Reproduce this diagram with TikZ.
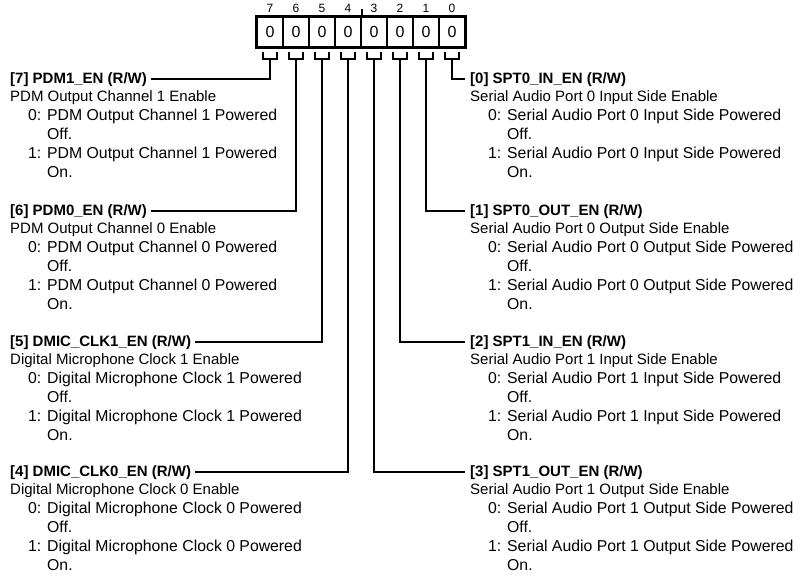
\documentclass[tikz,border=0pt]{standalone}
\usepackage{fontspec}
\setmainfont{Liberation Sans}
\begin{document}
\begin{tikzpicture}[x=1pt,y=1pt,
  txt/.style={anchor=base west,inner sep=0pt,font=\fontsize{15}{18}\selectfont},
  itm/.style={anchor=base west,inner sep=0pt,font=\fontsize{15.8}{18}\selectfont},
  hdr/.style={txt,font=\fontsize{15}{18}\selectfont\bfseries},
  cell/.style={draw,line width=2pt,minimum width=26pt,minimum height=29.5pt,inner sep=0pt,font=\fontsize{16}{18}\selectfont},
  bitno/.style={inner sep=0pt,font=\fontsize{12}{14}\selectfont},
  conn/.style={line width=2pt}]
\useasboundingbox (0,0) rectangle (811,-584);
% register cells
\foreach \b/\x in {7/270,6/296,5/322,4/348,3/374,2/400,1/426,0/452}{
  \node[cell] (c\b) at (\x,-32) {0};
  \node[bitno] (n\b) at (\x,-8) {\b};
  \draw[conn] ([xshift=-7pt,yshift=-4pt]c\b.south) -- ++(0,-7) -- ++(14,0) -- ++(0,7);
  \coordinate (k\b) at ([yshift=-11pt]c\b.south);
}
\draw[line width=2.2pt] (c7.north west) rectangle (c0.south east);
\coordinate (t0) at (c4.north east);
\coordinate (t1) at ([yshift=7pt]c4.north east);
\draw[line width=1.5pt] (t0) -- (t1);
\newcommand{\regfield}[6]{%
 \node[hdr] (h#1) at (#2,-#3) {#4};
 \node[txt] (d#1) at (#2,-#3-18.5) {#5};
 \node[itm] (a#1) at (#2+18,-#3-37.5) {0:};
 \node[itm] (b#1) at (#2+37,-#3-37.5) {#6};
 \node[itm] (o#1) at (#2+37,-#3-56.5) {Off.};
 \node[itm] (e#1) at (#2+18,-#3-75.5) {1:};
 \node[itm] (f#1) at (#2+37,-#3-75.5) {#6};
 \node[itm] (g#1) at (#2+37,-#3-94.5) {On.};
}
\regfield{7}{10}{83}{[7] PDM1\_EN (R/W)}{PDM Output Channel 1 Enable}{PDM Output Channel 1 Powered}
\regfield{6}{10}{215}{[6] PDM0\_EN (R/W)}{PDM Output Channel 0 Enable}{PDM Output Channel 0 Powered}
\regfield{5}{10}{346}{[5] DMIC\_CLK1\_EN (R/W)}{Digital Microphone Clock 1 Enable}{Digital Microphone Clock 1 Powered}
\regfield{4}{10}{476}{[4] DMIC\_CLK0\_EN (R/W)}{Digital Microphone Clock 0 Enable}{Digital Microphone Clock 0 Powered}
\regfield{0}{470}{83}{[0] SPT0\_IN\_EN (R/W)}{Serial Audio Port 0 Input Side Enable}{Serial Audio Port 0 Input Side Powered}
\regfield{1}{470}{215}{[1] SPT0\_OUT\_EN (R/W)}{Serial Audio Port 0 Output Side Enable}{Serial Audio Port 0 Output Side Powered}
\regfield{2}{470}{346}{[2] SPT1\_IN\_EN (R/W)}{Serial Audio Port 1 Input Side Enable}{Serial Audio Port 1 Input Side Powered}
\regfield{3}{470}{476}{[3] SPT1\_OUT\_EN (R/W)}{Serial Audio Port 1 Output Side Enable}{Serial Audio Port 1 Output Side Powered}
% connectors
\foreach \b in {7,6,5,4}{
  \draw[conn] (k\b) |- ([xshift=4pt]h\b.east);
}
\foreach \b in {0,1,2,3}{
  \draw[conn] (k\b) |- ([xshift=-5pt]h\b.west);
}
\end{tikzpicture}
\end{document}
